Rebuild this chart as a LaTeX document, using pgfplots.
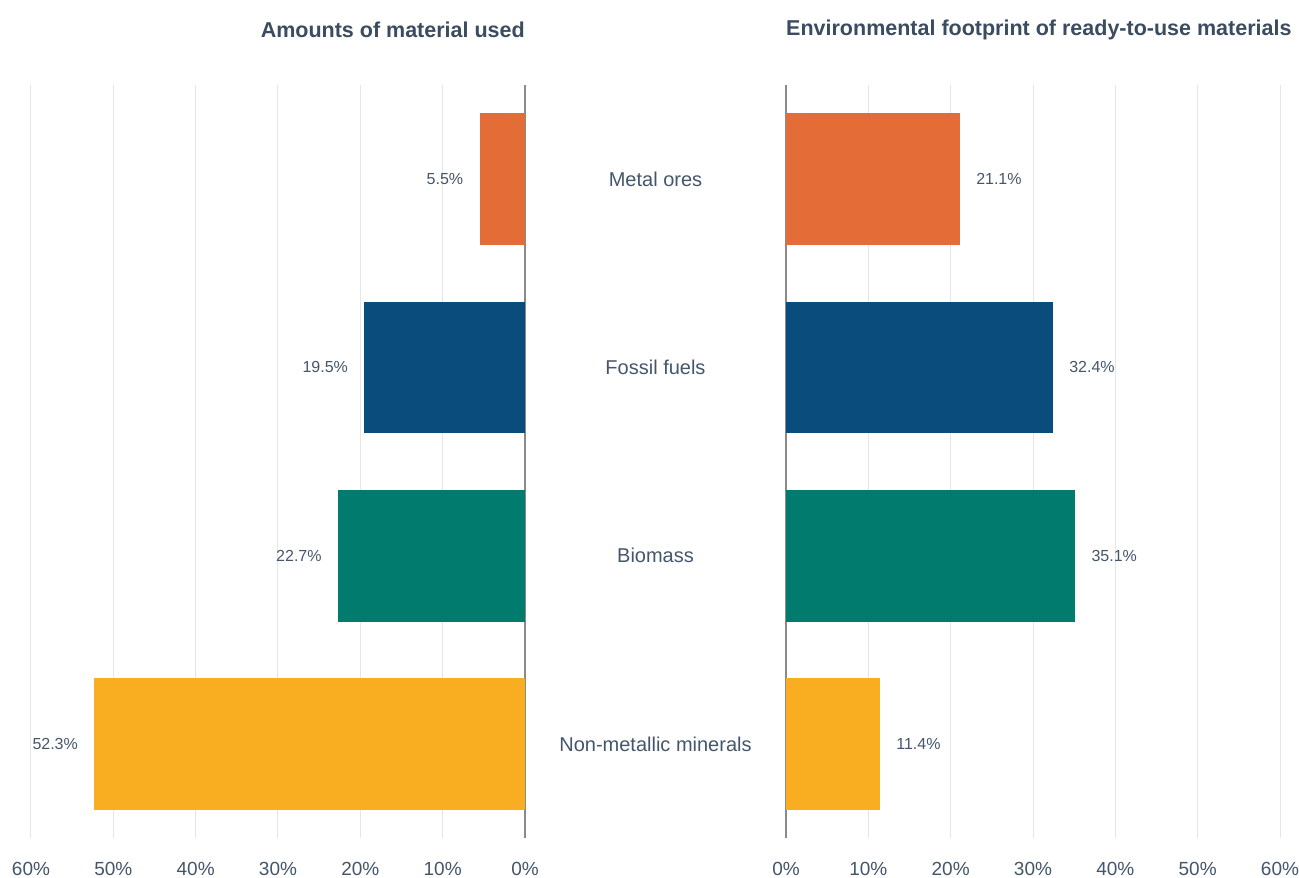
\documentclass[border=0pt]{standalone}
\usepackage{fontspec}
\setmainfont{Liberation Sans}
\usepackage{pgfplots}
\pgfplotsset{compat=1.18}
\definecolor{cOre}{HTML}{E36C37}
\definecolor{cFos}{HTML}{0A4C7C}
\definecolor{cBio}{HTML}{017B6E}
\definecolor{cMin}{HTML}{F9AE22}
\definecolor{txt}{HTML}{44566B}
\definecolor{ttl}{HTML}{3B4C61}
\definecolor{grd}{HTML}{E6E6E6}
\definecolor{zer}{HTML}{8A8A8A}
\pgfkeys{/pgf/number format/assume math mode=true}
\pgfplotsset{
  common/.style={
    scale only axis, width=494bp, height=753bp,
    xmin=0, xmax=60, ymin=-0.5, ymax=3.5, y dir=reverse,
    axis line style={draw=none}, major tick length=0pt,
    xtick={10,20,...,60}, xmajorgrids, grid style={draw=grd, line width=1bp},
    extra x ticks={0},
    extra x tick style={grid style={draw=zer, line width=1.3bp}},
    xticklabel={\pgfmathprintnumber{\tick}\%},
    xticklabel style={font=\fontsize{19bp}{22bp}\selectfont, text=txt, yshift=-21bp},
    xbar, bar width=0.7, bar shift=0pt,
    nodes near coords={\pgfmathprintnumber[fixed,precision=1,fixed zerofill]{\pgfplotspointmeta}\%},
    every node near coord/.append style={font=\fontsize{16bp}{19bp}\selectfont, text=txt},
  },
}
\begin{document}
\begin{tikzpicture}
\useasboundingbox (0,0) rectangle (1299bp,-878bp);
% left axis
\begin{axis}[common, at={(31bp,-85bp)}, anchor=north west, x dir=reverse,
  ytick=\empty,
  every node near coord/.append style={anchor=east, xshift=-13bp}]
  \addplot[fill=cOre, draw=none] coordinates {(5.5,0)};
  \addplot[fill=cFos, draw=none] coordinates {(19.5,1)};
  \addplot[fill=cBio, draw=none] coordinates {(22.7,2)};
  \addplot[fill=cMin, draw=none] coordinates {(52.3,3)};
\end{axis}
% right axis
\begin{axis}[common, at={(786bp,-85bp)}, anchor=north west,
  ytick={0,1,2,3},
  yticklabels={Metal ores, Fossil fuels, Biomass, Non-metallic minerals},
  yticklabel style={anchor=center, xshift=-130.5bp, font=\fontsize{20bp}{23bp}\selectfont, text=txt},
  every node near coord/.append style={anchor=west, xshift=13bp}]
  \addplot[fill=cOre, draw=none] coordinates {(21.1,0)};
  \addplot[fill=cFos, draw=none] coordinates {(32.4,1)};
  \addplot[fill=cBio, draw=none] coordinates {(35.1,2)};
  \addplot[fill=cMin, draw=none] coordinates {(11.4,3)};
\end{axis}
\node[anchor=east, font=\fontsize{21.5bp}{25bp}\selectfont\bfseries, text=ttl, inner sep=0pt] at (525bp,-30bp) {Amounts of material used};
\node[anchor=west, font=\fontsize{21.5bp}{25bp}\selectfont\bfseries, text=ttl, inner sep=0pt] at (786bp,-30bp) {Environmental footprint of ready-to-use materials};
\end{tikzpicture}
\end{document}
